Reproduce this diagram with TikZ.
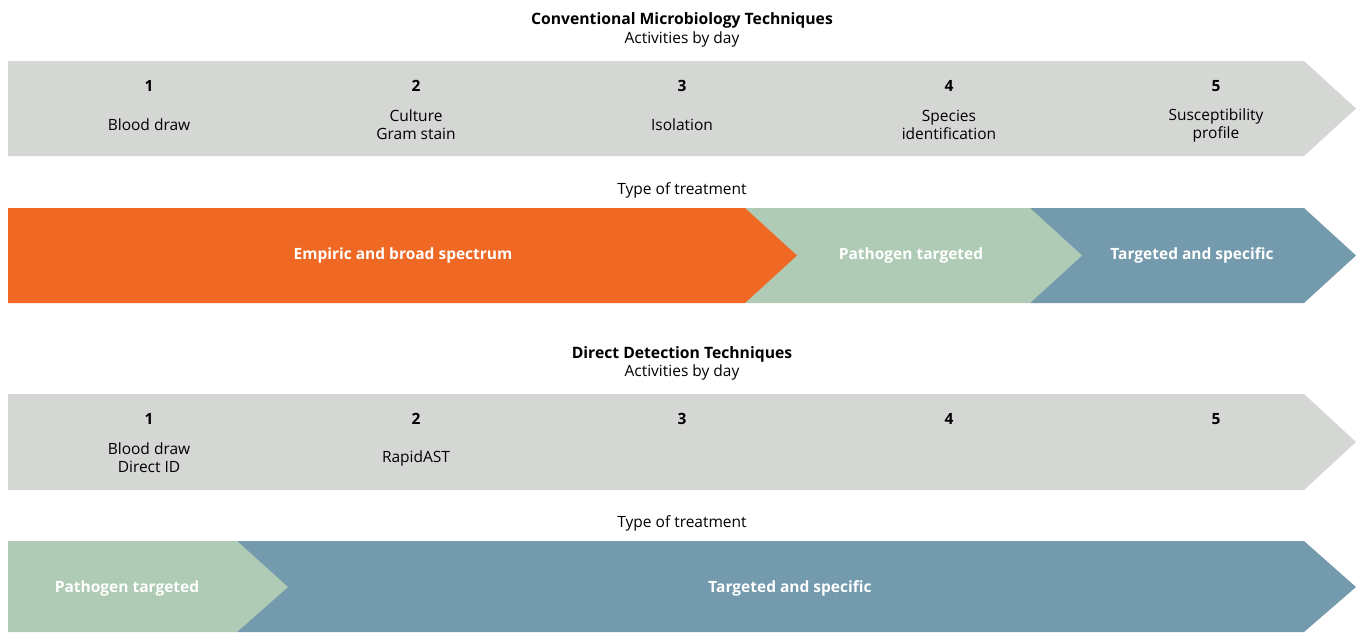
\documentclass[tikz,border=0pt]{standalone}
\usepackage{fontspec}
\setmainfont{Open Sans}
\usetikzlibrary{positioning}

\definecolor{bandgrey}{RGB}{213,215,212}
\definecolor{broadorange}{RGB}{239,104,36}
\definecolor{pathgreen}{RGB}{175,203,181}
\definecolor{specblue}{RGB}{116,154,173}

\begin{document}
\begin{tikzpicture}[x=1pt,y=-1pt,
    title/.style = {font=\fontsize{15.7}{18}\selectfont\bfseries},
    subtitle/.style = {font=\fontsize{15.5}{18}\selectfont},
    day/.style = {font=\fontsize{15.5}{18}\selectfont\bfseries},
    task/.style = {font=\fontsize{15.5}{18}\selectfont, align=center},
    treat/.style = {font=\fontsize{15.5}{18}\selectfont\bfseries, text=white}]
\useasboundingbox (0,0) rectangle (1356,633);

% conventional techniques
\node[title] (conv) at (682,20) {Conventional Microbiology Techniques};
\node[subtitle] (convsub) at (682,39) {Activities by day};
\fill[bandgrey] (8,61) -- (1304,61) -- (1356,108.5) -- (1304,156) -- (8,156) -- cycle;
\node[day] (c1) at (149,86) {1};
\node[day] (c2) at (416,86) {2};
\node[day] (c3) at (682,86) {3};
\node[day] (c4) at (949,86) {4};
\node[day] (c5) at (1216,86) {5};
\node[task] (c1t) at (149,125) {Blood draw};
\node[task] (c2t) at (416,124.5) {Culture\\Gram stain};
\node[task] (c3t) at (682,125) {Isolation};
\node[task] (c4t) at (949,124.5) {Species\\identification};
\node[task] (c5t) at (1216,125.5) {Susceptibility\\profile};

\node[subtitle] (convtype) at (682,190.5) {Type of treatment};
\fill[specblue] (1030,208) -- (1304,208) -- (1356,255.5) -- (1304,303) -- (1030,303) -- cycle;
\fill[pathgreen] (745,208) -- (1030,208) -- (1082,255.5) -- (1030,303) -- (745,303) -- cycle;
\fill[broadorange] (8,208) -- (745,208) -- (797,255.5) -- (745,303) -- (8,303) -- cycle;
\node[treat] (convbroad) at (403,255.5) {Empiric and broad spectrum};
\node[treat] (convpath) at (911,255.5) {Pathogen targeted};
\node[treat] (convspec) at (1192,255.5) {Targeted and specific};

% direct detection
\node[title] (dir) at (682,354) {Direct Detection Techniques};
\node[subtitle] (dirsub) at (682,372.5) {Activities by day};
\fill[bandgrey] (8,394) -- (1304,394) -- (1356,442) -- (1304,490) -- (8,490) -- cycle;
\node[day] (d1) at (149,419) {1};
\node[day] (d2) at (416,419) {2};
\node[day] (d3) at (682,419) {3};
\node[day] (d4) at (949,419) {4};
\node[day] (d5) at (1216,419) {5};
\node[task] (d1t) at (149,457.5) {Blood draw\\Direct ID};
\node[task] (d2t) at (416,458) {RapidAST};

\node[subtitle] (dirtype) at (682,523.5) {Type of treatment};
\fill[specblue] (237,541) -- (1304,541) -- (1356,587) -- (1304,632) -- (237,632) -- cycle;
\fill[pathgreen] (8,541) -- (237,541) -- (288,587) -- (237,632) -- (8,632) -- cycle;
\node[treat] (dirpath) at (127,588.5) {Pathogen targeted};
\node[treat] (dirspec) at (790,588.5) {Targeted and specific};
\end{tikzpicture}
\end{document}
